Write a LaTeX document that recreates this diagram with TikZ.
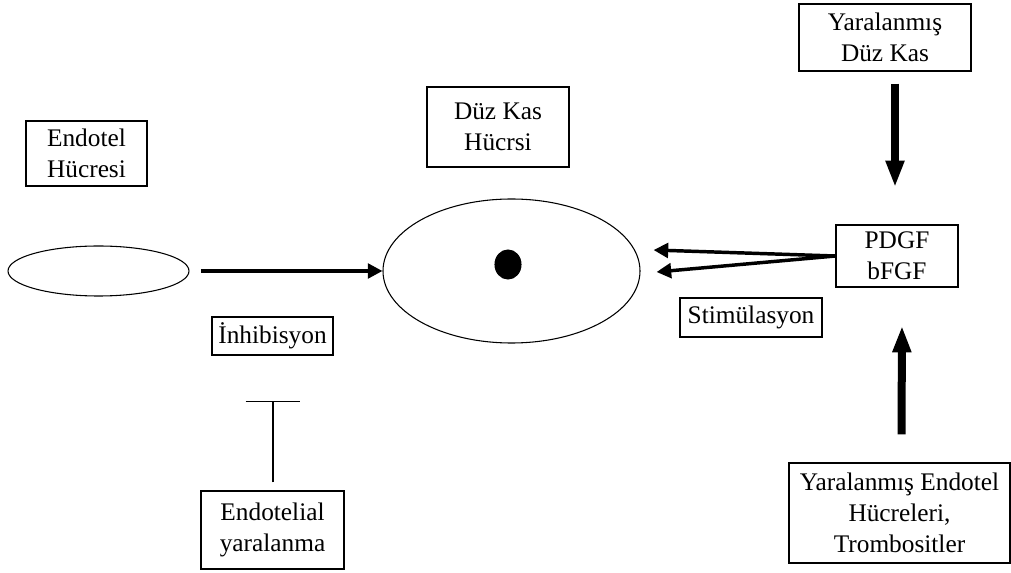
\documentclass[tikz,border=0pt]{standalone}
\usepackage{fontspec}
\setmainfont{Liberation Serif}
\usetikzlibrary{arrows.meta, shapes.geometric}

\begin{document}
\begin{tikzpicture}[x=0.75pt, y=-0.75pt,
    labelbox/.style={draw, line width=1pt, inner sep=0pt, align=center,
      font=\fontsize{19}{23.5}\selectfont},
    cell/.style={draw, ellipse, line width=0.8pt, inner sep=0pt},
    arr/.style={-{Triangle[length=11pt,width=11pt]}, line width=2.6pt},
    bigarr/.style={-{Triangle[length=20pt,width=13pt]}, line width=6pt},
    inhibit/.style={-{Bar[width=41pt]}, line width=1.1pt}
  ]
    \useasboundingbox (0,0) rectangle (1011,573);
    % cells
    \node[cell, minimum width=135.75pt, minimum height=37.5pt] (endocell) at (98.5,271) {};
    \node[cell, minimum width=192.75pt, minimum height=108pt] (smccell) at (511.5,271) {};
    \node[cell, fill, minimum width=19.5pt, minimum height=21.75pt] (nucleus) at (508,264.5) {};
    % labels
    \node[labelbox, minimum width=90.75pt, minimum height=48.75pt] (endolabel) at (86.5,153.5) {Endotel\\Hücresi};
    \node[labelbox, minimum width=106.5pt, minimum height=60pt] (smclabel) at (498,127) {Düz Kas\\Hücrsi};
    \node[labelbox, minimum width=91.5pt, minimum height=46.5pt] (growth) at (897,256) {PDGF\\bFGF};
    \node[labelbox, minimum width=106.5pt, minimum height=29.25pt] (stim) at (751,317.5) {Stimülasyon};
    \node[labelbox, minimum width=90.75pt, minimum height=28.5pt] (inhib) at (272.5,336) {İnhibisyon};
    \node[labelbox, minimum width=107.25pt, minimum height=58.5pt] (endoinj) at (272.5,530) {Endotelial\\yaralanma};
    \node[labelbox, minimum width=129pt, minimum height=50.25pt] (injsmc) at (885,37.5) {Yaralanmış\\Düz Kas};
    \node[labelbox, minimum width=165.75pt, minimum height=75pt] (injendo) at (899.5,513) {Yaralanmış Endotel\\Hücreleri,\\Trombositler};
    % connectors
    \draw[arr] ([xshift=8.5pt]endocell.east) -- (smccell.west);
    \draw[arr] (growth.west) -- ([shift={(13,-21)}]smccell.east);
    \draw[arr] (growth.west) -- ([shift={(16,1)}]smccell.east);
    \draw[bigarr] ([shift={(10,12)}]injsmc.south) -- ([shift={(-2,-37)}]growth.north);
    \draw[bigarr] ([shift={(2,-28)}]injendo.north) -- ([shift={(5,38)}]growth.south);
    \draw[inhibit] ([shift={(0.5,-8)}]endoinj.north) -- ([shift={(0.5,45)}]inhib.south);
\end{tikzpicture}
\end{document}
